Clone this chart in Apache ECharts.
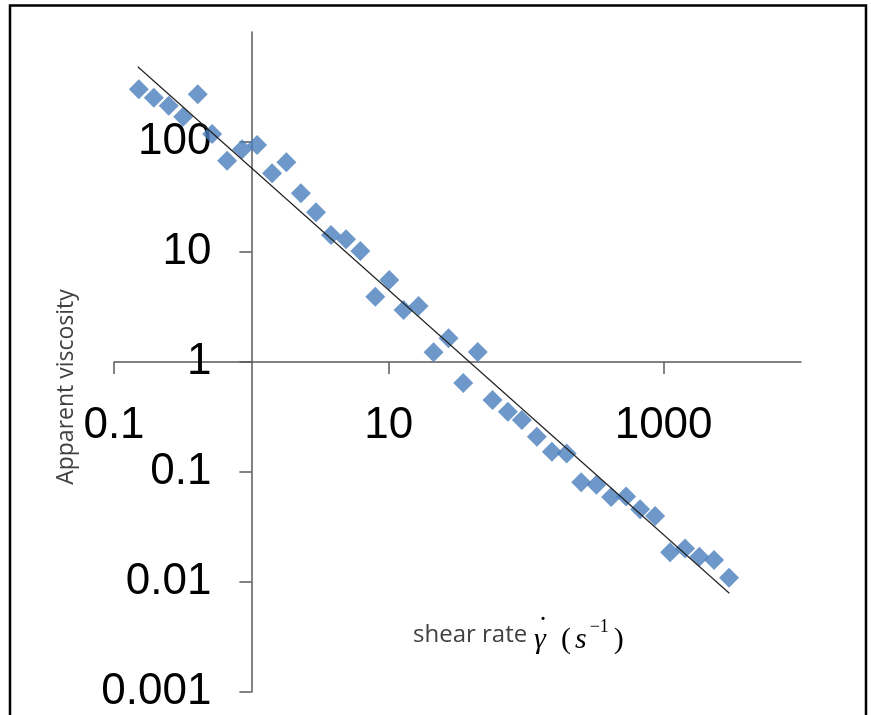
<!DOCTYPE html>
<html>
<head>
<meta charset="utf-8">
<script src="https://cdn.jsdelivr.net/npm/echarts@6/dist/echarts.min.js"></script>
<style>
html,body{margin:0;padding:0;background:#fff;}
#chart{width:871px;height:715px;}
</style>
</head>
<body>
<div id="chart"></div>
<script>
// Shear rate (1/s)
const shearRate = [0.1515,0.1948,0.2503,0.3187,0.4069,0.5179,0.6656,0.8556,1.100,1.414,
  1.797,2.291,2.954,3.798,4.883,6.205,7.977,10.08,12.81,16.47,
  21.18,27.22,34.83,44.39,56.88,73.57,93.05,119.6,153.8,197.0,
  251.2,324.6,415.1,533.7,674.8,867.6,1115,1433,1822,2330,2995];
// Apparent viscosity
const viscosity = [301.3,252.7,213.8,169.8,271.4,118.2,67.6,85.8,93.9,51.9,
  65.5,34.2,22.96,14.27,13.05,10.21,3.92,5.57,2.97,3.23,
  1.225,1.643,0.644,1.233,0.4513,0.3533,0.2970,0.2094,0.1529,0.1473,
  0.0806,0.0766,0.0593,0.0599,0.0458,0.0398,0.0186,0.0202,0.0170,0.01585,0.01094];
// Power-law trend line end points
const trendX = [0.149, 3009];
const trendY = [483.7, 0.00789];
// Axes
const xRange = [0.1, 10000];
const yRange = [0.001, 1000];
const xTickValues = [0.1, 10, 1000];
const xTickLabels = ['0.1', '10', '1000'];
const yTickValues = [0.001, 0.01, 0.1, 1, 10, 100];
const yTickLabels = ['0.001', '0.01', '0.1', '1', '10', '100'];
const crossX = 1, crossY = 1;

const G = {left: 114, top: 32, width: 687, height: 660};
const lg = Math.log10;
const xAxisOffset = -G.height * (lg(yRange[1]) - lg(crossY)) / (lg(yRange[1]) - lg(yRange[0]));
const yAxisOffset = -G.width * (lg(crossX) - lg(xRange[0])) / (lg(xRange[1]) - lg(xRange[0]));

function labelFor(vals, labels) {
  return function (v) {
    let best = 0, bd = Infinity;
    vals.forEach((t, i) => { const d = Math.abs(lg(v) - lg(t)); if (d < bd) { bd = d; best = i; } });
    return bd < 0.01 ? labels[best] : '';
  };
}

const axisColor = '#595959';
const serif = 'Liberation Serif';
const chart = echarts.init(document.getElementById('chart'), null, {renderer: 'canvas'});
chart.setOption({
  animation: false,
  backgroundColor: '#ffffff',
  grid: Object.assign({containLabel: false, outerBoundsMode: 'none'}, G),
  xAxis: {
    type: 'log', logBase: 10, min: xRange[0], max: xRange[1],
    position: 'bottom', offset: xAxisOffset,
    axisLine: {show: true, onZero: false, lineStyle: {color: axisColor, width: 1.5}},
    axisTick: {show: true, inside: false, length: 12, customValues: xTickValues, lineStyle: {color: axisColor, width: 1.5}},
    axisLabel: {show: true, customValues: xTickValues, margin: 42, fontFamily: 'Liberation Sans', fontSize: 44, color: '#000',
      formatter: labelFor(xTickValues, xTickLabels)},
    splitLine: {show: false}, minorTick: {show: false}
  },
  yAxis: {
    type: 'log', logBase: 10, min: yRange[0], max: yRange[1],
    position: 'left', offset: yAxisOffset,
    axisLine: {show: true, onZero: false, lineStyle: {color: axisColor, width: 1.5}},
    axisTick: {show: true, inside: false, length: 12, customValues: yTickValues, lineStyle: {color: axisColor, width: 1.5}},
    axisLabel: {show: true, customValues: yTickValues, margin: 40, fontFamily: 'Liberation Sans', fontSize: 44, color: '#000',
      formatter: labelFor(yTickValues, yTickLabels)},
    splitLine: {show: false}, minorTick: {show: false}
  },
  series: [
    {
      type: 'scatter', symbol: 'diamond', symbolSize: 20,
      itemStyle: {color: '#4A7EBB'},
      data: shearRate.map((x, i) => [x, viscosity[i]]),
      z: 2
    },
    {
      type: 'line', showSymbol: false, symbol: 'none', silent: true,
      lineStyle: {color: '#222', width: 1.2},
      data: trendX.map((x, i) => [x, trendY[i]]),
      z: 3
    }
  ],
  graphic: [
    {type: 'rect', shape: {x: 10, y: 5.5, width: 856, height: 730}, style: {fill: null, stroke: '#000', lineWidth: 2.5}, z: 10},
    {type: 'text', x: 66, y: 387, rotation: Math.PI / 2,
      style: {text: 'Apparent viscosity', fontFamily: 'Open Sans', fontSize: 23, fill: '#404040', align: 'center', verticalAlign: 'middle'}},
    {type: 'text', x: 413, y: 635,
      style: {text: 'shear rate', fontFamily: 'Open Sans', fontSize: 24, fill: '#404040', align: 'left', verticalAlign: 'middle'}},
    {type: 'text', x: 540, y: 640,
      style: {text: 'γ', fontFamily: serif, fontStyle: 'italic', fontSize: 30, fill: '#000', align: 'center', verticalAlign: 'middle'}},
    {type: 'text', x: 543, y: 629,
      style: {text: '˙', fontFamily: serif, fontSize: 30, fill: '#000', align: 'center', verticalAlign: 'middle'}},
    {type: 'text', x: 561, y: 640,
      style: {text: '{p|(}{s|s}{sup|−1}{p|)}', align: 'left', verticalAlign: 'middle',
        rich: {
          p: {fontFamily: serif, fontSize: 30, fill: '#000', lineHeight: 44},
          s: {fontFamily: serif, fontStyle: 'italic', fontSize: 30, fill: '#000', lineHeight: 44, padding: [0, 0, 0, 4]},
          sup: {fontFamily: serif, fontSize: 18, fill: '#000', lineHeight: 24, verticalAlign: 'top', padding: [0, 5, 0, 3]}
        }}}
  ]
});
</script>
</body>
</html>
